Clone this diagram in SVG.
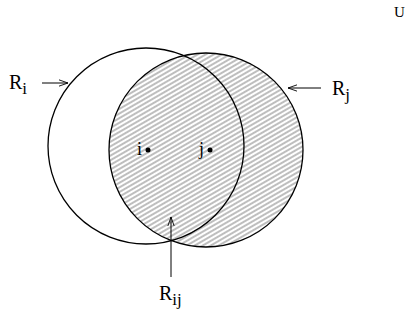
<svg xmlns="http://www.w3.org/2000/svg" width="407" height="320" viewBox="0 0 407 320">
<style>
.c{fill:none;stroke:#000;stroke-width:1.3}
.hf{fill:url(#h);stroke:#000;stroke-width:1.3}
.t{font-family:"Liberation Serif",serif;fill:#000}
.a{stroke:#000;stroke-width:1;fill:none}
</style>
<defs>
<pattern id="h" patternUnits="userSpaceOnUse" width="8" height="4" patternTransform="rotate(-30)">
<line x1="0" y1="2" x2="8" y2="2" stroke="#444" stroke-width="0.7"/>
</pattern>
<marker id="ar" viewBox="0 0 10 10" refX="10" refY="5" markerWidth="9" markerHeight="9" markerUnits="userSpaceOnUse" orient="auto">
<path d="M0,1.5 L10,5 L0,8.5" fill="none" stroke="#000" stroke-width="1"/>
</marker>
</defs>
<g id="Rj-region"><circle cx="206" cy="150" r="97" class="hf"/></g>
<g id="Ri-region"><circle cx="146" cy="146" r="98" class="c"/></g>
<g id="node-i"><circle cx="148" cy="150" r="2.5" fill="#000"/><text class="t" x="137" y="155" font-size="18">i</text></g>
<g id="node-j"><circle cx="210" cy="150" r="2.5" fill="#000"/><text class="t" x="199" y="155" font-size="18">j</text></g>
<g id="label-Ri"><text class="t" x="9" y="89" font-size="20">R<tspan font-size="17" dy="5">i</tspan></text></g>
<g id="label-Rj"><text class="t" x="332" y="95" font-size="20">R<tspan font-size="17" dy="5">j</tspan></text></g>
<g id="label-Rij"><text class="t" x="159" y="300" font-size="20">R<tspan font-size="17" dy="5">ij</tspan></text></g>
<g id="label-U"><text class="t" x="394" y="17" font-size="15">U</text></g>
<g id="connectors">
<line class="a" x1="42" y1="83" x2="68" y2="83" marker-end="url(#ar)"/>
<line class="a" x1="321" y1="88" x2="288" y2="88" marker-end="url(#ar)"/>
<line class="a" x1="171" y1="277" x2="171" y2="217" marker-end="url(#ar)"/>
</g>
</svg>
